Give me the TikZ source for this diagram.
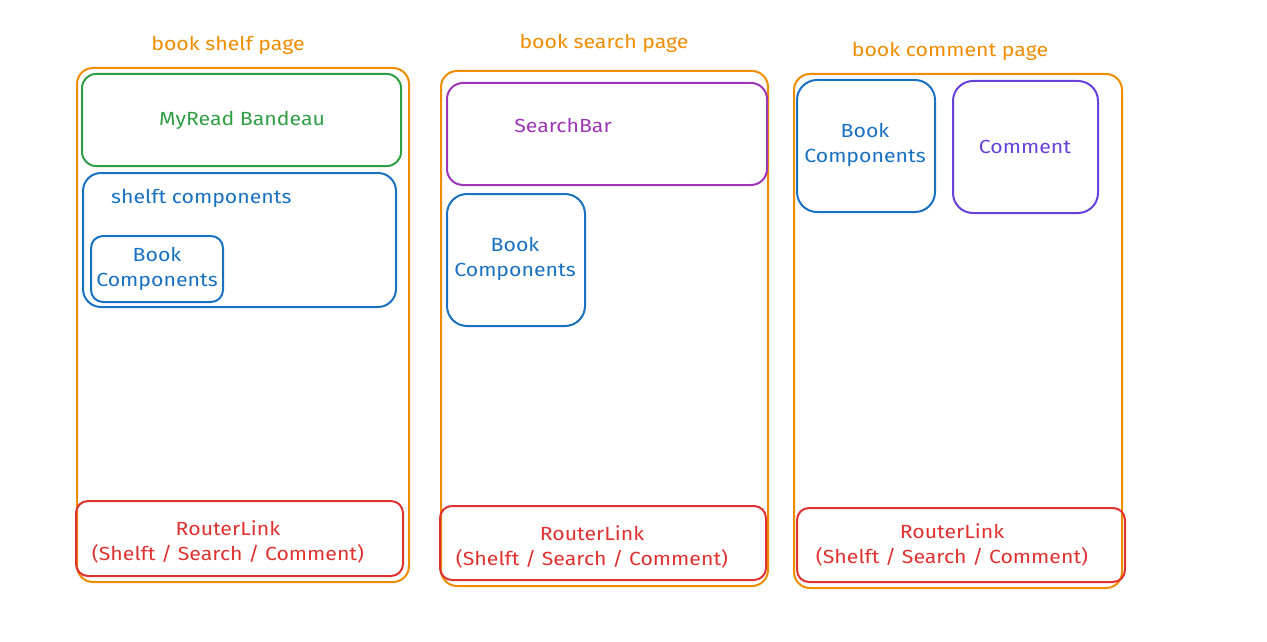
\documentclass[tikz,border=0pt]{standalone}
\usepackage{fontspec}
\setmainfont{Fira Sans}[FakeStretch=1.12]
\definecolor{cOrange}{HTML}{F08C00}
\definecolor{cGreen}{HTML}{2F9E44}
\definecolor{cBlue}{HTML}{1971C2}
\definecolor{cPurple}{HTML}{9C36B5}
\definecolor{cViolet}{HTML}{6741D9}
\definecolor{cRed}{HTML}{E03131}
\tikzset{
  box/.style={draw, line width=2pt, rounded corners=#1, inner sep=0pt, fill=none},
  box/.default=14pt,
  txt/.style={font=\fontsize{19}{25}\selectfont, inner sep=0pt, align=center}
}
\begin{document}
\begin{tikzpicture}[x=1pt,y=-1pt]
\useasboundingbox (0,0) rectangle (1267,642);
% page 1
\node[box=16pt, cOrange, minimum width=332pt, minimum height=514pt] (p1) at (243,325) {};
\node[txt, cOrange] (t1) at (228,45) {book shelf page};
\node[box=14pt, cGreen, minimum width=319pt, minimum height=92pt] (g1) at (241.5,120) {};
\node[txt, cGreen] (g1t) at (242,120) {MyRead Bandeau};
\node[box=18pt, cBlue, minimum width=313pt, minimum height=134pt] (s1) at (239.5,240) {};
\node[txt, cBlue, anchor=west] (s1t) at (111,198) {shelft components};
\node[box=12pt, cBlue, minimum width=132pt, minimum height=66pt] (b1) at (157,269) {};
\node[txt, cBlue] (b1t) at (157,269) {Book\\Components};
\node[box=12pt, cRed, minimum width=327pt, minimum height=75pt] (r1) at (239.5,538.5) {};
\node[txt, cRed] (r1t) at (228,542) {RouterLink\\(Shelft / Search / Comment)};
% page 2
\node[box=16pt, cOrange, minimum width=327pt, minimum height=515pt] (p2) at (604.5,328.5) {};
\node[txt, cOrange] (t2) at (604,43) {book search page};
\node[box=16pt, cPurple, minimum width=320pt, minimum height=102pt] (sb) at (607,134) {};
\node[txt, cPurple] (sbt) at (563,126) {SearchBar};
\node[box=20pt, cBlue, minimum width=138pt, minimum height=132pt] (b2) at (516,260) {};
\node[txt, cBlue] (b2t) at (515,259) {Book\\Components};
\node[box=12pt, cRed, minimum width=326pt, minimum height=74pt] (r2) at (603,543) {};
\node[txt, cRed] (r2t) at (592,547) {RouterLink\\(Shelft / Search / Comment)};
% page 3
\node[box=16pt, cOrange, minimum width=328pt, minimum height=514pt] (p3) at (958,331) {};
\node[txt, cOrange] (t3) at (950,51) {book comment page};
\node[box=20pt, cBlue, minimum width=138pt, minimum height=132pt] (b3) at (866,146) {};
\node[txt, cBlue] (b3t) at (865,145) {Book\\Components};
\node[box=20pt, cViolet, minimum width=145pt, minimum height=132pt] (c3) at (1025.5,147) {};
\node[txt, cViolet] (c3t) at (1025,147) {Comment};
\node[box=12pt, cRed, minimum width=328pt, minimum height=74pt] (r3) at (961,545) {};
\node[txt, cRed] (r3t) at (952,545) {RouterLink\\(Shelft / Search / Comment)};
\end{tikzpicture}
\end{document}
